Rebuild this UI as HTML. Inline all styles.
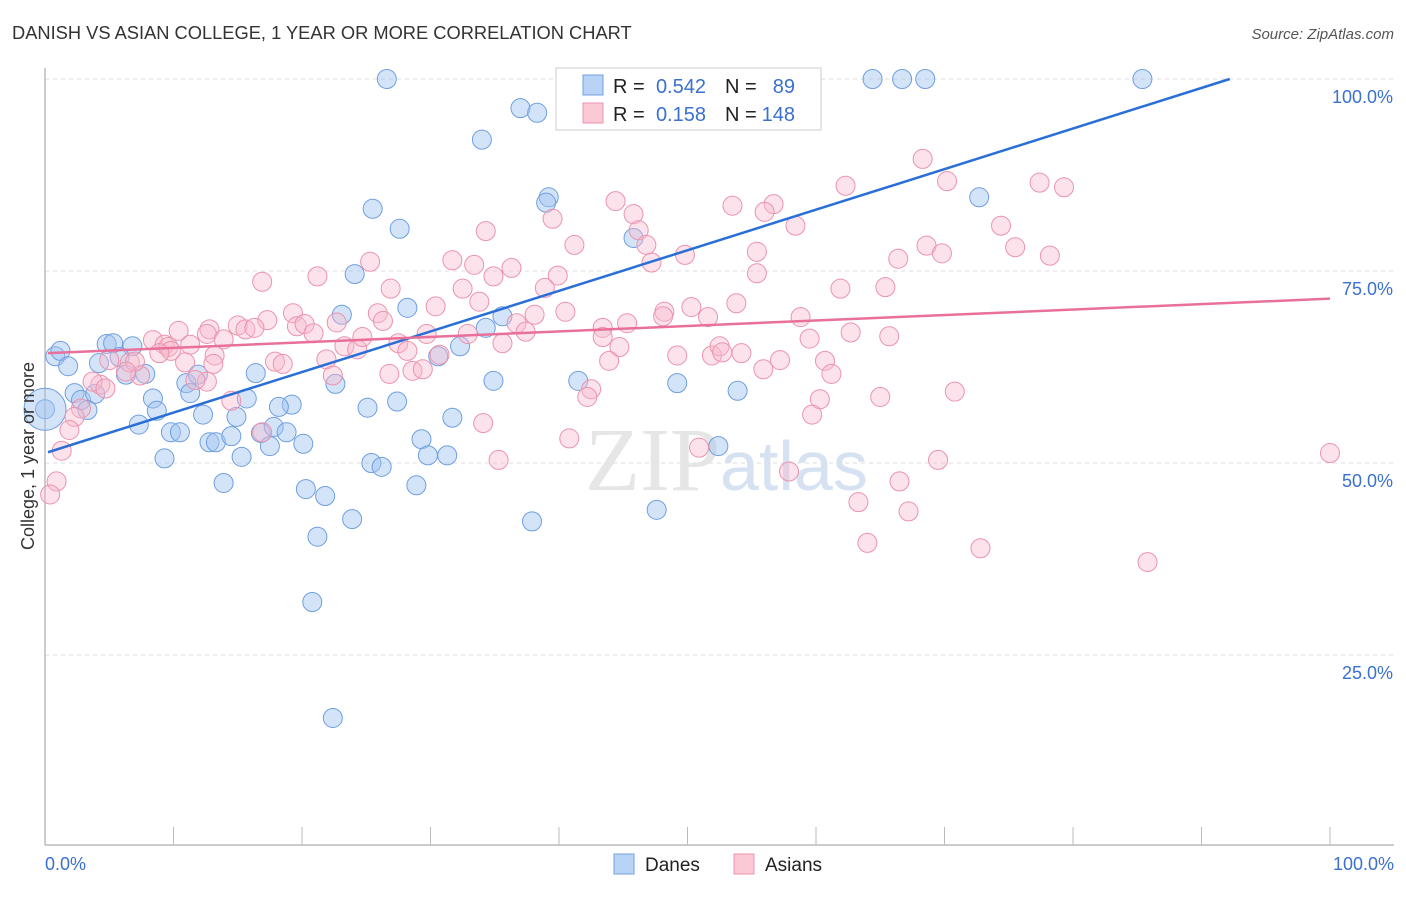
<!DOCTYPE html>
<html><head><meta charset="utf-8"><style>
body{margin:0;background:#fff;font-family:"Liberation Sans",sans-serif;}
</style></head><body>
<svg id="chart" width="1406" height="892" xmlns="http://www.w3.org/2000/svg" style="font-family:'Liberation Sans',sans-serif">
<text x="12" y="39" font-size="18.3" fill="#333">DANISH VS ASIAN COLLEGE, 1 YEAR OR MORE CORRELATION CHART</text>
<text x="1394" y="39" font-size="15" font-style="italic" fill="#555" text-anchor="end">Source: ZipAtlas.com</text>
<g id="grid"></g>
<text x="720" y="490" font-size="90" fill="#e6e6e6" text-anchor="end" font-family="Liberation Serif">ZIP</text>
<text x="720" y="490" font-size="70" fill="#d6e2f2">atlas</text>
<g id="pts"></g>
<g id="lines"></g>
<text transform="translate(34,456) rotate(-90)" font-size="18" fill="#333" text-anchor="middle">College, 1 year or more</text>
<g>
<rect x="556" y="68" width="265" height="62" fill="#fff" stroke="#ccc"/>
<rect x="583" y="75" width="20" height="20" fill="#b8d3f5" stroke="#6f9fe0"/>
<rect x="583" y="103" width="20" height="20" fill="#fbc8d6" stroke="#ec93ad"/>
<text x="613" y="93" font-size="20" fill="#222">R =</text>
<text x="706" y="93" font-size="20" fill="#3a70d0" text-anchor="end">0.542</text>
<text x="725" y="93" font-size="20" fill="#222">N =</text>
<text x="795" y="93" font-size="20" fill="#3a70d0" text-anchor="end">89</text>
<text x="613" y="121" font-size="20" fill="#222">R =</text>
<text x="706" y="121" font-size="20" fill="#3a70d0" text-anchor="end">0.158</text>
<text x="725" y="121" font-size="20" fill="#222">N =</text>
<text x="795" y="121" font-size="20" fill="#3a70d0" text-anchor="end">148</text>
</g>
<g><rect x="614" y="854" width="20" height="20" fill="#b8d3f5" stroke="#6f9fe0"/><text x="645" y="871" font-size="19" fill="#222">Danes</text></g>
<g><rect x="734" y="854" width="20" height="20" fill="#fbc8d6" stroke="#ec93ad"/><text x="765" y="871" font-size="19" fill="#222">Asians</text></g>
</svg>
<script>
const yTicks=[100,75,50,25];
const xTickLabels=["0.0%","100.0%"];
const danesX=[26.6,34.0,37.0,38.3,42.7,44.5,64.4,66.7,68.5,85.4,72.7,39.2,39.0,25.5,27.6,45.8,24.1,28.2,23.1,35.6,34.3,32.3,30.6,0.8,1.2,1.8,4.2,4.8,5.3,6.8,5.8,6.3,7.8,2.3,2.8,3.9,3.3,8.4,11.0,11.3,11.9,16.4,15.7,19.2,22.6,25.1,27.4,34.9,41.5,49.2,53.9,0,8.7,7.3,9.8,10.5,12.3,12.8,13.3,14.5,14.9,15.3,9.3,13.9,16.8,17.5,17.8,18.2,18.8,20.1,25.4,26.2,29.3,29.8,31.3,31.7,20.3,21.8,28.9,23.9,21.2,37.9,47.6,52.4,20.8,22.4];
const danesY=[100,92.1,96.2,95.6,100,100,100,100,100,100,84.6,84.6,83.9,83.1,80.5,79.3,74.6,70.2,69.3,69.1,67.6,65.2,63.9,63.9,64.6,62.6,63.0,65.5,65.6,65.2,63.8,61.5,61.6,59.1,58.2,59.0,56.9,58.4,60.4,59.1,61.5,61.7,58.4,57.6,60.3,57.2,58.0,60.7,60.7,60.4,59.4,57.0,56.8,55.0,54.0,54.0,56.3,52.7,52.7,53.5,56.0,50.8,50.6,47.4,53.9,52.2,54.7,57.3,54.0,52.5,50.0,49.5,53.1,51.0,51.0,55.9,46.6,45.7,47.1,42.7,40.4,42.4,43.9,52.2,31.9,16.8];
const asiansX=[68.3,70.2,62.3,77.4,79.3,44.4,53.5,56.7,56.0,45.8,39.5,46.2,34.3,41.2,46.8,58.4,74.4,75.5,68.6,69.8,78.2,66.4,55.4,47.2,49.8,31.7,33.4,34.9,36.3,39.9,38.9,25.3,16.9,21.2,32.5,26.9,55.4,61.9,65.4,53.8,50.3,48.2,48.1,51.6,58.8,33.8,30.4,25.9,26.3,19.3,19.6,17.3,15.0,15.6,16.3,12.8,10.4,12.6,13.9,20.2,20.9,22.7,8.4,9.3,9.6,11.3,9.8,8.9,13.2,23.3,24.3,24.7,27.5,28.2,29.7,30.7,32.9,35.6,36.7,38.1,40.5,37.4,43.4,45.3,44.7,43.4,43.9,49.2,51.9,52.5,52.7,54.2,57.2,59.5,60.7,62.7,65.7,55.9,61.2,65.0,70.8,60.3,59.7,13.1,17.9,18.5,10.9,5.0,6.6,7.4,7.0,4.3,3.7,4.7,6.3,12.6,11.7,21.9,22.4,26.8,28.6,29.4,42.5,42.2,2.8,2.3,1.9,1.3,0.9,0.4,34.1,35.3,40.8,50.9,57.9,69.5,66.5,63.3,67.2,64.0,72.8,85.8,100,14.5,16.9];
const asiansY=[89.6,86.7,86.1,86.5,85.9,84.1,83.5,83.7,82.7,82.4,81.8,80.3,80.2,78.4,78.4,80.9,80.9,78.1,78.3,77.3,77.0,76.6,77.5,76.1,77.1,76.4,75.8,74.3,75.4,74.4,72.8,76.2,73.6,74.3,72.7,72.7,74.7,72.7,72.9,70.8,70.3,69.7,69.1,69.0,69.0,71.0,70.4,69.5,68.5,69.5,67.8,68.6,67.9,67.4,67.6,67.4,67.2,66.8,66.1,68.1,66.9,68.3,66.0,65.4,65.1,65.4,64.6,64.3,64.0,65.2,64.8,66.4,65.6,64.6,66.8,64.1,66.8,65.6,68.2,69.3,69.7,67.1,67.6,68.2,65.1,66.4,63.3,64.0,64.0,65.2,64.4,64.3,63.4,66.2,63.3,67.0,66.5,62.2,61.6,58.6,59.3,58.3,56.3,62.9,63.2,62.9,63.1,63.4,63.1,61.4,63.2,60.2,60.6,59.7,61.9,60.6,60.8,63.5,61.4,61.6,62.0,62.2,59.6,58.6,57.1,56.0,54.3,51.6,47.6,45.9,55.2,50.4,53.2,52.0,48.9,50.4,47.6,44.9,43.7,39.6,38.9,37.1,51.3,58.1,54.0];
const danesBig=[0,57.0];
const blueLine=[0,51.4,92.2,100];
const pinkLine=[0,64.3,100,71.4];
const X0=45,X1=1330,Y0=847,Y100=79;
const sx=v=>X0+(X1-X0)*v/100, sy=v=>Y0-(Y0-Y100)*v/100;
const NS="http://www.w3.org/2000/svg";
function mk(t,a,p){const e=document.createElementNS(NS,t);for(const k in a)e.setAttribute(k,a[k]);p.appendChild(e);return e;}
const grid=document.getElementById('grid');
yTicks.forEach(v=>{const l=mk('line',{x1:45,x2:1394,y1:sy(v),y2:sy(v),stroke:'#ddd','stroke-dasharray':'4,4'},grid);


const t=mk('text',{x:1393,y:sy(v)+24,'font-size':18,fill:'#3a70d0','text-anchor':'end'},grid);t.textContent=v.toFixed(1)+'%';

});
const ax=mk('line',{x1:45,x2:1394,y1:845,y2:845,stroke:'#bbb','stroke-width':1.5},grid);


const ay=mk('line',{x1:45,x2:45,y1:68,y2:845,stroke:'#bbb','stroke-width':1.5},grid);


for(let i=0;i<=10;i++){const t=mk('line',{x1:sx(i*10),x2:sx(i*10),y1:827,y2:845,stroke:'#bbb'},grid);

}
xTickLabels.forEach((s,i)=>{const t=mk('text',{x:i?1394:45,y:870,'font-size':18,fill:'#3a70d0','text-anchor':i?'end':'start'},grid);t.textContent=s;

});
const pts=document.getElementById('pts');
danesX.forEach((x,i)=>{const c=mk('circle',{cx:sx(x),cy:sy(danesY[i]),r:9.5,fill:'rgba(160,195,240,0.45)',stroke:'#6f9fe0','stroke-width':1},pts);

});
const big=mk('circle',{cx:sx(danesBig[0]),cy:sy(danesBig[1]),r:21,fill:'rgba(160,195,240,0.45)',stroke:'#6f9fe0'},pts);


asiansX.forEach((x,i)=>{const c=mk('circle',{cx:sx(x),cy:sy(asiansY[i]),r:9.5,fill:'rgba(248,185,205,0.4)',stroke:'#ec93ad','stroke-width':1},pts);

});
const lines=document.getElementById('lines');
const bl=mk('line',{x1:sx(blueLine[0])+3,y1:sy(blueLine[1]),x2:sx(blueLine[2]),y2:sy(blueLine[3]),stroke:'#2a6fd6','stroke-width':2.5},lines);


const pl=mk('line',{x1:sx(pinkLine[0])+3,y1:sy(pinkLine[1]),x2:sx(pinkLine[2]),y2:sy(pinkLine[3]),stroke:'#e8709a','stroke-width':2.5},lines);


</script>
</body></html>
